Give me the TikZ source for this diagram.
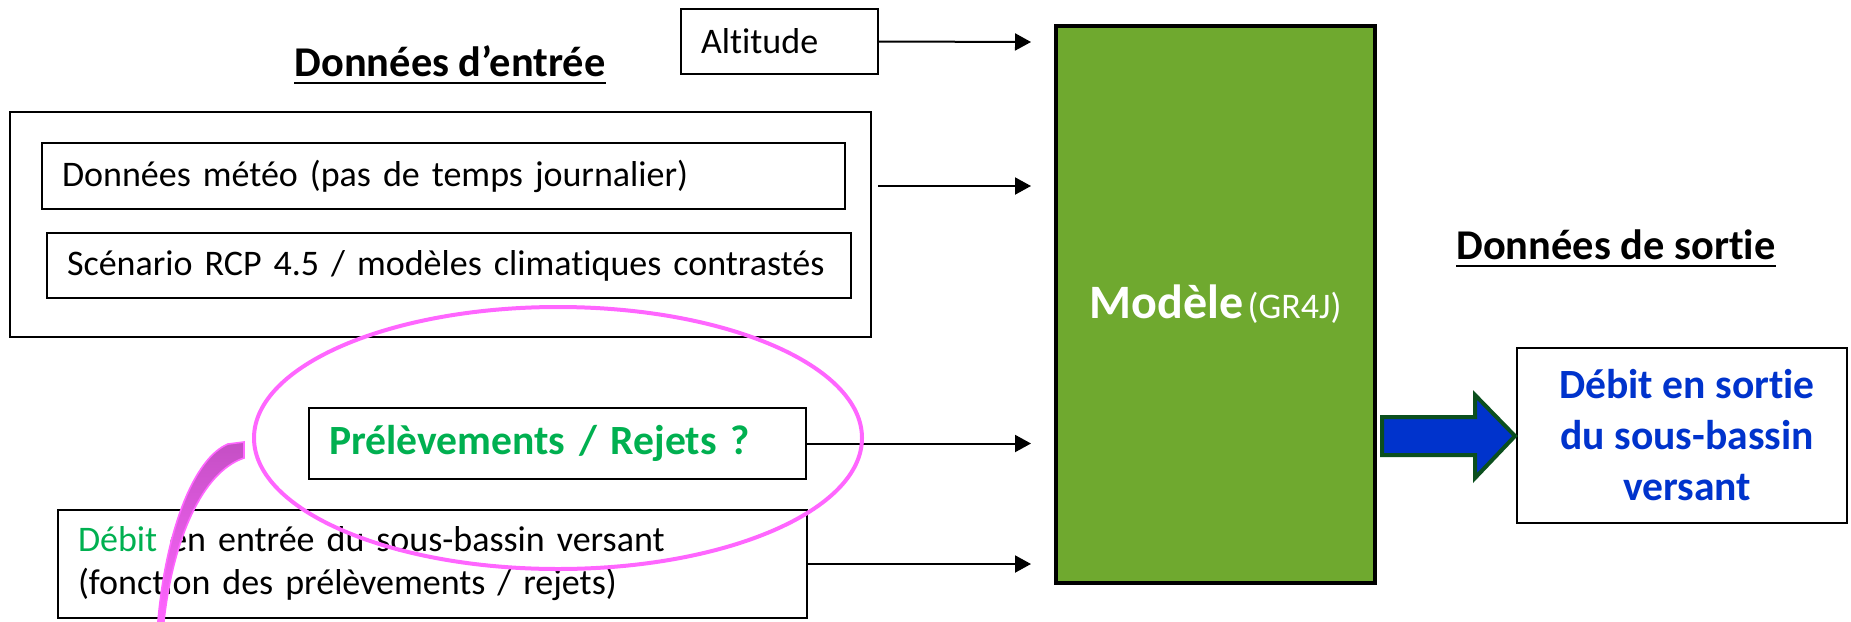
\documentclass[tikz,border=0pt]{standalone}
\usepackage{fontspec}
\setmainfont{Carlito}[Ligatures=NoCommon]
\usetikzlibrary{arrows.meta,shapes.geometric}

\definecolor{modelgreen}{HTML}{6FA92F}
\definecolor{textgreen}{HTML}{00B050}
\definecolor{outblue}{HTML}{0033CC}
\definecolor{arrowedge}{HTML}{0B4F1E}
\definecolor{ringpink}{HTML}{FF66FF}
\definecolor{tailpink}{HTML}{C44FC4}

\newcommand{\bodyfont}{\fontsize{18}{21.5}\selectfont}
\newcommand{\titlefont}{\fontsize{21.2}{25}\selectfont\bfseries}

\tikzset{
  inbox/.style={draw, line width=1pt, inner xsep=10pt, inner ysep=0pt,
                align=left, font=\bodyfont},
  heading/.style={inner sep=0pt, anchor=base, font=\titlefont},
  feed/.style={line width=1pt, -{Triangle[length=8pt,width=8.5pt]}},
}

\begin{document}
\begin{tikzpicture}[x=0.5pt,y=-0.5pt]
\useasboundingbox (0,0) rectangle (1851,621);

% input data
\node[heading] (tin) at (450,76) {Données d’entrée};
\draw[line width=1pt] ([yshift=-3.6pt]tin.base west) -- ([yshift=-3.6pt]tin.base east);

\node[inbox, text width=78.5pt, minimum height=32.5pt] (alt) at (779.5,41.5) {Altitude};

\node[draw, line width=1pt, minimum width=430.5pt, minimum height=112.5pt, inner sep=0pt] (grp) at (440.5,224.5) {};
\node[inbox, text width=381.5pt, minimum height=33pt] (meteo) at (443.5,176) {Données météo (pas de temps journalier)};
\node[inbox, text width=382pt, minimum height=32.5pt] (scen) at (449,265.5) {Scénario RCP 4.5 / modèles climatiques contrastés};

\node[inbox, text width=228.5pt, minimum height=35.5pt, font=\fontsize{20.8}{25}\selectfont\bfseries, text=textgreen] (prel) at (557.5,443.5) {Prélèvements / Rejets ?};

\node[inbox, text width=354.5pt, minimum height=54pt] (debin) at (432.5,564) {{\color{textgreen}Débit} en entrée du sous-bassin versant\\(fonction des prélèvements / rejets)};

% model
\node[draw, line width=2pt, fill=modelgreen, minimum width=159.5pt, minimum height=278.5pt, text=white, inner sep=0pt] (model) at (1215.5,304.5)
  {{\fontsize{24}{28}\selectfont\bfseries Modèle} {\fontsize{18}{21}\selectfont (GR4J)}};

% feeds into the model
\coordinate (m1) at (1031,42);
\coordinate (m2s) at (878,186);
\coordinate (m2) at (1031,186);
\coordinate (m3) at (1031,443.5);
\coordinate (m4) at (1031,564);
\draw[feed] (alt.east) -- (m1);
\draw[feed] (m2s) -- (m2);
\draw[feed] (prel.east) -- (m3);
\draw[feed] (debin.east) -- (m4);

% output data
\node[heading] (tout) at (1616,259) {Données de sortie};
\draw[line width=1pt] ([yshift=-3.6pt]tout.base west) -- ([yshift=-3.6pt]tout.base east);

\node[draw, line width=1pt, minimum width=165pt, minimum height=87.5pt, inner sep=0pt, align=center,
      font=\fontsize{20.8}{25.5}\selectfont\bfseries, text=outblue] (out) at (1682,435.5)
  {\hspace*{5pt}Débit en sortie\\\hspace*{5pt}du sous-bassin\\\hspace*{5pt}versant};

% block arrow from the model to the output
\draw[line width=2pt, line join=miter, draw=arrowedge, fill=outblue]
  (1382,417) -- (1475,417) -- (1475,395) -- (1515,436) -- (1475,478) -- (1475,455) -- (1382,455) -- cycle;

% highlight ring and its tail
\node[draw=ringpink, line width=2pt, ellipse, minimum width=304pt, minimum height=131pt, inner sep=0pt] (ring) at (558,438) {};
\shade[top color=tailpink, bottom color=ringpink, draw=ringpink, line width=0.8pt]
  (244,442) -- (228,444) .. controls (194,458) and (166,530) .. (158,621)
  -- (164,621) .. controls (173,540) and (202,472) .. (244,458) -- cycle;
\end{tikzpicture}
\end{document}
